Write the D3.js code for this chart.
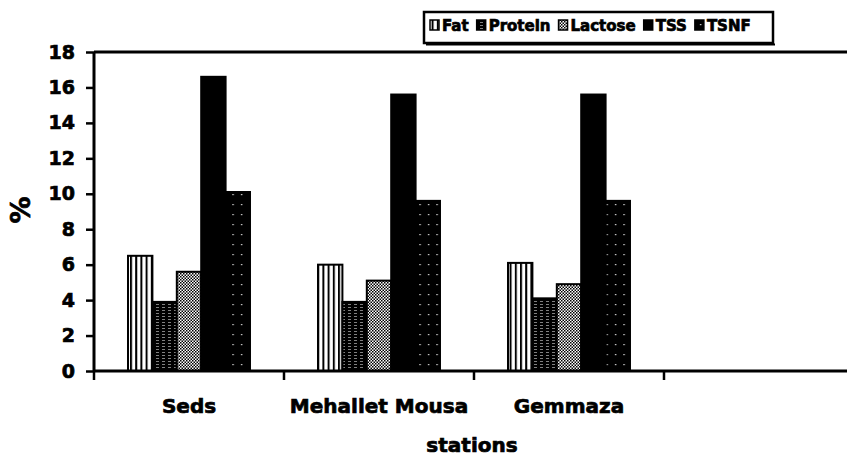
<!DOCTYPE html>
<html>
<head>
<meta charset="utf-8">
<script src="https://cdn.jsdelivr.net/npm/d3@7"></script>
<style>
  html, body { margin: 0; padding: 0; background: #fff; }
  svg { display: block; font-family: "DejaVu Sans", sans-serif; font-weight: bold; }
  svg text { stroke: #000; stroke-width: 0.7px; paint-order: stroke; }
</style>
</head>
<body>
<svg id="chart" width="847" height="456"></svg>
<script>
// ---- data ----
const categories = ["Seds", "Mehallet Mousa", "Gemmaza", ""];
const seriesNames = ["Fat", "Protein", "Lactose", "TSS", "TSNF"];
const fat     = [6.5, 6.0, 6.1];
const protein = [3.9, 3.9, 4.1];
const lactose = [5.6, 5.1, 4.9];
const tss     = [16.6, 15.6, 15.6];
const tsnf    = [10.1, 9.6, 9.6];
const yTicks  = [0, 2, 4, 6, 8, 10, 12, 14, 16, 18];
const yLabel  = "%";
const xLabel  = "stations";

(function () {
const seriesValues = [fat, protein, lactose, tss, tsnf];
const patternIds = ["pFat", "pProtein", "pLactose", "pTSS", "pTSNF"];

const svg = d3.select("#chart");
const W = 847, H = 456;
const mLeft = 94, mRight = 854, mTop = 52, mBottom = 371;

// ---- patterns ----
const defs = svg.append("defs");
let p = defs.append("pattern").attr("id", "pFat").attr("patternUnits", "userSpaceOnUse")
  .attr("width", 5.2).attr("height", 10);
p.append("rect").attr("width", 5.2).attr("height", 10).attr("fill", "#fff");
p.append("rect").attr("x", 0).attr("width", 2).attr("height", 10).attr("fill", "#000");

p = defs.append("pattern").attr("id", "pProtein").attr("patternUnits", "userSpaceOnUse")
  .attr("width", 6).attr("height", 3);
p.append("rect").attr("width", 6).attr("height", 3).attr("fill", "#000");
p.append("rect").attr("x", 0).attr("y", 1).attr("width", 3).attr("height", 1).attr("fill", "#fff").attr("opacity", 0.5);

p = defs.append("pattern").attr("id", "pLactose").attr("patternUnits", "userSpaceOnUse")
  .attr("width", 3).attr("height", 3);
p.append("rect").attr("width", 3).attr("height", 3).attr("fill", "#fff");
p.append("rect").attr("x", 0).attr("y", 0).attr("width", 1.5).attr("height", 1.5).attr("fill", "#000");
p.append("rect").attr("x", 1.5).attr("y", 1.5).attr("width", 1.5).attr("height", 1.5).attr("fill", "#000");

p = defs.append("pattern").attr("id", "pTSS").attr("patternUnits", "userSpaceOnUse")
  .attr("width", 4).attr("height", 4);
p.append("rect").attr("width", 4).attr("height", 4).attr("fill", "#000");

p = defs.append("pattern").attr("id", "pTSNF").attr("patternUnits", "userSpaceOnUse")
  .attr("width", 8.5).attr("height", 10);
p.append("rect").attr("width", 8.5).attr("height", 10).attr("fill", "#000");
p.append("rect").attr("x", 3).attr("y", 4).attr("width", 1.2).attr("height", 1.2).attr("fill", "#fff");

// ---- scales ----
const x = d3.scaleBand().domain(categories).range([mLeft, mRight]).padding(0);
const groupW = x.bandwidth() * 0.642;
const x1 = d3.scaleBand().domain(seriesNames).range([0, groupW]).padding(0);
const y = d3.scaleLinear().domain([0, 18]).range([mBottom, mTop]);

// ---- bars ----
const data = [];
categories.forEach((c, i) => {
  seriesNames.forEach((s, j) => {
    if (seriesValues[j][i] !== undefined) data.push({ c, s, j, v: seriesValues[j][i] });
  });
});
svg.append("g").selectAll("rect").data(data).join("rect")
  .attr("x", d => x(d.c) + (x.bandwidth() - groupW) / 2 + x1(d.s))
  .attr("y", d => y(d.v))
  .attr("width", x1.bandwidth())
  .attr("height", d => y(0) - y(d.v))
  .attr("fill", d => `url(#${patternIds[d.j]})`)
  .attr("stroke", "#000").attr("stroke-width", 2);

// ---- axes ----
const yAxis = svg.append("g").attr("transform", `translate(${mLeft},0)`)
  .call(d3.axisLeft(y).tickValues(yTicks).tickSize(8).tickPadding(11).tickFormat(d3.format("d")));
yAxis.select(".domain").attr("stroke", "#000").attr("stroke-width", 3).attr("d", `M0,${mTop}V${mBottom}`);
yAxis.selectAll(".tick line").attr("stroke", "#000").attr("stroke-width", 2.5);
yAxis.selectAll(".tick text").attr("font-size", 19).attr("font-family", "DejaVu Sans").attr("font-weight", "bold").attr("fill", "#000");

svg.append("line").attr("x1", mLeft).attr("x2", W).attr("y1", mTop).attr("y2", mTop)
  .attr("stroke", "#000").attr("stroke-width", 3);

const xAxis = svg.append("g").attr("transform", `translate(0,${mBottom})`)
  .call(d3.axisBottom(x).tickSize(0).tickPadding(28));
xAxis.select(".domain").attr("stroke", "#000").attr("stroke-width", 3).attr("d", `M${mLeft},0H${W}`);
xAxis.selectAll(".tick text").attr("font-size", 20).attr("font-family", "DejaVu Sans").attr("font-weight", "bold").attr("fill", "#000");
svg.append("g").selectAll("line").data(categories).join("line")
  .attr("x1", d => x(d)).attr("x2", d => x(d))
  .attr("y1", mBottom).attr("y2", mBottom + 9)
  .attr("stroke", "#000").attr("stroke-width", 2.5);

// ---- axis titles ----
svg.append("text").attr("transform", `translate(30,210) rotate(-90)`)
  .attr("text-anchor", "middle").attr("font-size", 27).attr("fill", "#000").text(yLabel);
svg.append("text").attr("x", 472).attr("y", 452)
  .attr("text-anchor", "middle").attr("font-size", 20).attr("fill", "#000").text(xLabel);

// ---- legend ----
const lg = svg.append("g");
lg.append("rect").attr("x", 424).attr("y", 12).attr("width", 349).attr("height", 31)
  .attr("fill", "#fff").attr("stroke", "#000").attr("stroke-width", 2.5);
lg.append("line").attr("x1", 426).attr("x2", 775).attr("y1", 44.5).attr("y2", 44.5)
  .attr("stroke", "#000").attr("stroke-width", 2);
let lx = 430;
seriesNames.forEach((s, j) => {
  lg.append("rect").attr("x", lx).attr("y", 20).attr("width", 9).attr("height", 10)
    .attr("fill", `url(#${patternIds[j]})`).attr("stroke", "#000").attr("stroke-width", 1.5);
  const t = lg.append("text").attr("x", lx + 12).attr("y", 31)
    .attr("font-size", 15).attr("fill", "#000").text(s);
  lx += 12 + t.node().getComputedTextLength() + 8;
});
})();
</script>
</body>
</html>
